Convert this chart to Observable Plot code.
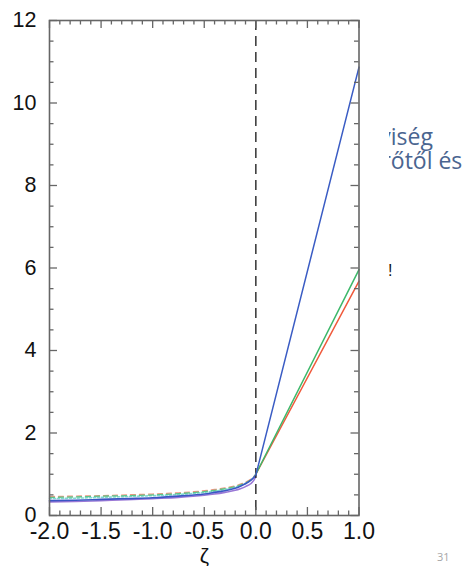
<!DOCTYPE html>
<html><head><meta charset="utf-8">
<script src="https://cdn.jsdelivr.net/npm/d3@7"></script>
<script src="https://cdn.jsdelivr.net/npm/@observablehq/plot@0.6"></script>
<style>
body{margin:0;background:#fff;}
#wrap{position:relative;width:470px;height:566px;overflow:hidden;background:#fff;}
#chart{position:absolute;left:0;top:0;}
.clip{position:absolute;left:388.5px;width:82px;height:34px;overflow:hidden;}
.rest{position:absolute;top:0;line-height:30px;white-space:nowrap;font-family:"Open Sans",sans-serif;color:#4a6590;font-size:23px;}
.pre{position:absolute;right:100%;top:0;}
#bang{position:absolute;left:388px;top:262px;font-family:"Liberation Sans",Arial,sans-serif;font-size:16px;color:#111;line-height:18px;}
#page{position:absolute;left:437px;top:549px;font-family:"Open Sans",sans-serif;font-size:11px;color:#a6a6a6;line-height:16px;}
</style></head>
<body>
<div id="wrap">
  <div id="chart"></div>
  <div class="clip" style="top:121px"><span class="rest" style="left:2.3px"><span class="pre">v</span>iség</span></div>
  <div class="clip" style="top:145px"><span class="rest" style="left:2.3px"><span class="pre">r</span>őtől és</span></div>
  <div id="bang">!</div>
  <div id="page">31</div>
</div>
<script>
// ζ values for the unstable (negative) branch
const zetaNeg = [-2, -1.75, -1.5, -1.25, -1, -0.75, -0.5, -0.4, -0.3, -0.2, -0.15, -0.1, -0.05, -0.02, 0];
const redNeg    = [0.46, 0.47, 0.48, 0.50, 0.52, 0.55, 0.60, 0.63, 0.67, 0.72, 0.76, 0.81, 0.88, 0.94, 1.00];
const greenNeg  = [0.44, 0.45, 0.47, 0.48, 0.50, 0.53, 0.58, 0.61, 0.65, 0.70, 0.74, 0.79, 0.86, 0.93, 1.00];
const cyanNeg   = [0.41, 0.42, 0.44, 0.46, 0.48, 0.51, 0.56, 0.59, 0.63, 0.69, 0.73, 0.78, 0.86, 0.93, 1.02];
const blueNeg   = [0.36, 0.37, 0.39, 0.41, 0.43, 0.47, 0.52, 0.56, 0.60, 0.66, 0.71, 0.77, 0.85, 0.92, 0.98];
const purpleNeg = [0.33, 0.34, 0.36, 0.38, 0.41, 0.44, 0.49, 0.52, 0.56, 0.61, 0.65, 0.70, 0.77, 0.85, 0.95];
// stable (positive) branch
const zetaPos  = [0, 1];
const bluePos  = [0.98, 10.87];
const greenPos = [1.00, 5.96];
const redPos   = [1.00, 5.68];
// axis ticks
const xLabels = [-2, -1.5, -1, -0.5, 0, 0.5, 1];
const yLabels = [0, 2, 4, 6, 8, 10, 12];
const xMinor = d3.range(-20, 11).map(i => i / 10).filter(v => Math.abs(v * 2 - Math.round(v * 2)) > 1e-6);
const yMinor = d3.range(0, 25).map(i => i / 2).filter(v => v % 2 !== 0);

const W = 470, H = 566, mL = 49, mR = 111.5, mT = 20, mB = 51;
const PW = W - mL - mR, PH = H - mT - mB;
const pts = (xs, ys) => xs.map((x, i) => ({x, y: ys[i]}));
const axisCol = "#666";

const chart = Plot.plot({
  width: W, height: H,
  marginLeft: mL, marginRight: mR, marginTop: mT, marginBottom: mB,
  style: {fontFamily: "'Liberation Sans', Arial, Helvetica, sans-serif", background: "transparent", color: "#111"},
  x: {domain: [-2, 1]},
  y: {domain: [0, 12]},
  marks: [
    Plot.line(pts(zetaNeg, cyanNeg), {x: "x", y: "y", stroke: "#7fd8d2", strokeWidth: 1.6, strokeDasharray: "2,2", curve: "monotone-x"}),
    Plot.line(pts(zetaNeg, redNeg), {x: "x", y: "y", stroke: "#f29480", strokeWidth: 1.3, strokeDasharray: "5,4", curve: "monotone-x"}),
    Plot.line(pts(zetaNeg, greenNeg), {x: "x", y: "y", stroke: "#5cc48a", strokeWidth: 1.3, strokeDasharray: "5,4", curve: "monotone-x"}),
    Plot.line(pts(zetaNeg, purpleNeg), {x: "x", y: "y", stroke: "#9a78d6", strokeWidth: 1.6, curve: "monotone-x"}),
    Plot.line(pts(zetaNeg, blueNeg), {x: "x", y: "y", stroke: "#3a56c4", strokeWidth: 1.6, curve: "monotone-x"}),
    Plot.ruleX([0], {stroke: "#333", strokeWidth: 1.5, strokeDasharray: "10,6"}),
    Plot.line(pts(zetaPos, redPos), {x: "x", y: "y", stroke: "#f05a3c", strokeWidth: 1.5}),
    Plot.line(pts(zetaPos, greenPos), {x: "x", y: "y", stroke: "#3cb86a", strokeWidth: 1.5}),
    Plot.line(pts(zetaPos, bluePos), {x: "x", y: "y", stroke: "#3a5cc4", strokeWidth: 1.5}),
    Plot.frame({stroke: axisCol, strokeWidth: 1.6}),
    // inward ticks
    Plot.tickY(yLabels, {y: d => d, stroke: axisCol, strokeWidth: 1.3, insetRight: PW - 8}),
    Plot.tickY(yLabels, {y: d => d, stroke: axisCol, strokeWidth: 1.3, insetLeft: PW - 8}),
    Plot.tickY(yMinor, {y: d => d, stroke: axisCol, strokeWidth: 1.3, insetRight: PW - 4.5}),
    Plot.tickY(yMinor, {y: d => d, stroke: axisCol, strokeWidth: 1.3, insetLeft: PW - 4.5}),
    Plot.tickX(xLabels, {x: d => d, stroke: axisCol, strokeWidth: 1.3, insetTop: PH - 8}),
    Plot.tickX(xLabels, {x: d => d, stroke: axisCol, strokeWidth: 1.3, insetBottom: PH - 8}),
    Plot.tickX(xMinor, {x: d => d, stroke: axisCol, strokeWidth: 1.3, insetTop: PH - 4.5}),
    Plot.tickX(xMinor, {x: d => d, stroke: axisCol, strokeWidth: 1.3, insetBottom: PH - 4.5}),
    Plot.axisY({ticks: yLabels, tickSize: 0, tickPadding: 13, fontSize: 21.5, label: null, tickFormat: d => String(d), fill: "#111"}),
    Plot.axisX({ticks: xLabels, tickSize: 0, tickPadding: 7, fontSize: 23, label: null, tickFormat: d => d.toFixed(1), fill: "#111"}),
    Plot.text(["ζ"], {text: d => d, frameAnchor: "bottom", dy: 40.5, fontSize: 21, lineAnchor: "middle", fill: "#111"})
  ]
});
document.getElementById("chart").appendChild(chart);
</script>
</body></html>
